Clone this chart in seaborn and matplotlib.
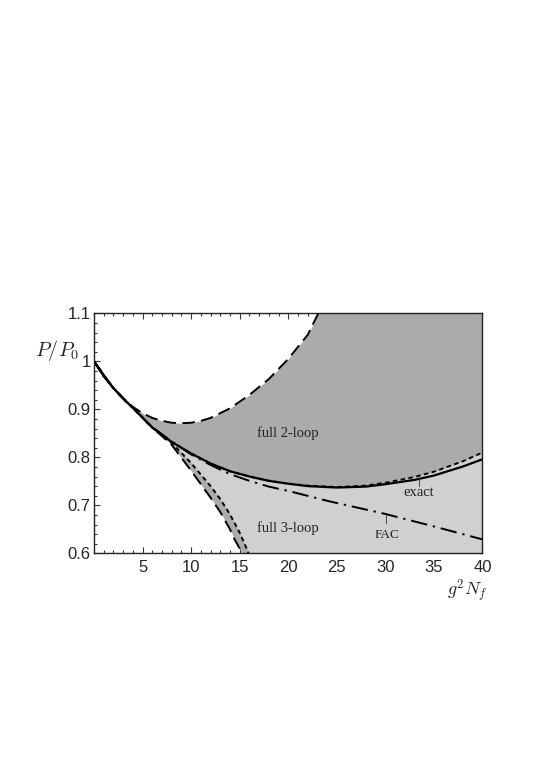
import numpy as np
import matplotlib
matplotlib.use("Agg")
import matplotlib.pyplot as plt
import seaborn as sns
from matplotlib.ticker import MultipleLocator, FixedLocator, FixedFormatter

# ---------------- data ----------------
# exact (solid)
exact_x = [0, 1, 2, 3, 4, 6, 8, 10, 12, 14, 16, 18, 20, 22, 25, 28, 30, 33, 35, 38, 40]
exact_y = [1.0, 0.969, 0.944, 0.922, 0.903, 0.862, 0.832, 0.808, 0.787, 0.771, 0.760,
           0.751, 0.745, 0.740, 0.737, 0.739, 0.744, 0.753, 0.762, 0.781, 0.796]

# full 3-loop, upper bound (short dashes)
loop3_up_x = [0, 1, 2, 3, 4, 6, 8, 10, 12, 14, 16, 18, 20, 22, 25, 28, 30, 33, 35, 38, 40]
loop3_up_y = [1.0, 0.969, 0.944, 0.922, 0.903, 0.862, 0.832, 0.808, 0.787, 0.771, 0.760,
              0.751, 0.745, 0.741, 0.738, 0.741, 0.747, 0.759, 0.770, 0.792, 0.810]

# full 3-loop, lower bound (short dashes)
loop3_lo_x = [0, 2, 4, 6, 8, 10, 12, 13, 14, 15, 15.5, 16.0, 16.2]
loop3_lo_y = [1.0, 0.944, 0.903, 0.862, 0.830, 0.788, 0.740, 0.713, 0.681, 0.643, 0.620,
              0.596, 0.585]

# full 2-loop, upper bound (long dashes)
loop2_up_x = [0, 1, 2, 3, 4, 5, 6, 7, 8, 9, 10, 11, 12, 14, 16, 18, 20, 22, 23.1, 23.8]
loop2_up_y = [1.0, 0.969, 0.944, 0.923, 0.905, 0.892, 0.882, 0.876, 0.872, 0.871, 0.872,
              0.876, 0.882, 0.902, 0.930, 0.963, 1.005, 1.055, 1.100, 1.130]

# full 2-loop, lower bound (long dashes)
loop2_lo_x = [0, 2, 4, 6, 8, 10, 12, 13, 14, 14.5, 15, 15.25, 15.5]
loop2_lo_y = [1.0, 0.944, 0.903, 0.862, 0.826, 0.772, 0.716, 0.686, 0.650, 0.628, 0.610,
              0.598, 0.585]

# FAC (dash-dot)
fac_x = [0, 2, 4, 6, 8, 10, 12, 14, 16, 18, 20, 24.3, 30, 35, 40]
fac_y = [1.0, 0.944, 0.903, 0.863, 0.833, 0.806, 0.784, 0.765, 0.751, 0.739, 0.730,
         0.708, 0.682, 0.656, 0.629]

x_ticks = [5, 10, 15, 20, 25, 30, 35, 40]
x_ticklabels = ["5", "10", "15", "20", "25", "30", "35", "40"]
y_ticks = [0.6, 0.7, 0.8, 0.9, 1.0, 1.1]
y_ticklabels = ["0.6", "0.7", "0.8", "0.9", "1", "1.1"]
x_lim = (0, 40)
y_lim = (0.6, 1.1)

# ---------------- style ----------------
sns.set_theme(style="ticks")
plt.rcParams["font.family"] = ["Liberation Sans", "DejaVu Sans"]
plt.rcParams["mathtext.fontset"] = "cm"

fig = plt.figure(figsize=(5.45, 7.70), dpi=100)
ax = fig.add_axes([0.1725, 0.2814, 0.7128, 0.3117])

DARK = "#ababab"
LIGHT = "#d0d0d0"

# ---------------- filled bands ----------------
grid = np.union1d(np.union1d(loop2_up_x, loop2_lo_x),
                  np.union1d(loop3_up_x, loop3_lo_x))
grid = np.union1d(grid, np.linspace(x_lim[0], x_lim[1], 401))
below = y_lim[0] - 0.5
above = y_lim[1] + 0.5
b2_up = np.interp(grid, loop2_up_x, loop2_up_y, right=above)
b2_lo = np.interp(grid, loop2_lo_x, loop2_lo_y, right=below)
b3_up = np.interp(grid, loop3_up_x, loop3_up_y)
b3_lo = np.interp(grid, loop3_lo_x, loop3_lo_y, right=below)
ax.fill_between(grid, b2_lo, b2_up, color=DARK, lw=0, zorder=1)
ax.fill_between(grid, b3_lo, b3_up, color=LIGHT, lw=0, zorder=2)

# ---------------- lines ----------------
lw = 1.4
sns.lineplot(x=loop2_up_x, y=loop2_up_y, ax=ax, color="black", lw=lw,
             sort=False, zorder=5).lines[-1].set_dashes((6.5, 3.2))
sns.lineplot(x=loop2_lo_x, y=loop2_lo_y, ax=ax, color="black", lw=lw,
             sort=False, zorder=5).lines[-1].set_dashes((6.5, 3.2))
sns.lineplot(x=loop3_lo_x, y=loop3_lo_y, ax=ax, color="black", lw=lw,
             sort=False, zorder=5).lines[-1].set_dashes((2.3, 1.8))
sns.lineplot(x=fac_x, y=fac_y, ax=ax, color="black", lw=lw,
             sort=False, zorder=5).lines[-1].set_dashes((8.5, 3.0, 1.2, 3.0))
sns.lineplot(x=loop3_up_x, y=loop3_up_y, ax=ax, color="black", lw=lw,
             sort=False, zorder=6).lines[-1].set_dashes((2.3, 1.8))
sns.lineplot(x=exact_x, y=exact_y, ax=ax, color="black", lw=1.6,
             sort=False, zorder=7)

# ---------------- axes ----------------
ax.set_xlim(*x_lim)
ax.set_ylim(*y_lim)
ax.xaxis.set_major_locator(FixedLocator(x_ticks))
ax.xaxis.set_major_formatter(FixedFormatter(x_ticklabels))
ax.yaxis.set_major_locator(FixedLocator(y_ticks))
ax.yaxis.set_major_formatter(FixedFormatter(y_ticklabels))
ax.xaxis.set_minor_locator(MultipleLocator(1))
ax.yaxis.set_minor_locator(MultipleLocator(0.02))
ax.tick_params(which="both", direction="in", top=True, right=True,
               color="#333333", width=0.8)
ax.tick_params(which="major", length=4)
ax.tick_params(which="minor", length=2.2)
ax.tick_params(axis="x", which="major", pad=5.0, labelsize=12)
ax.tick_params(axis="y", which="major", pad=2.5, labelsize=12)
for s in ax.spines.values():
    s.set_linewidth(1.0)
    s.set_color("#222222")
    s.set_zorder(10)
ax.set_xlabel("")
ax.set_ylabel("")

ax.text(-0.094, 0.847, r"$P/P_0$", transform=ax.transAxes, fontsize=14.5,
        ha="center", va="center")
ax.text(0.96, -0.156, r"$g^2N_f$", transform=ax.transAxes, fontsize=13,
        ha="center", va="center")

serif = ["Liberation Serif", "DejaVu Serif"]
ax.text(20, 0.851, "full 2-loop", fontsize=10.5, family=serif, ha="center",
        va="center", color="#222222", zorder=8)
ax.text(20, 0.652, "full 3-loop", fontsize=10.5, family=serif, ha="center",
        va="center", color="#222222", zorder=8)
ax.text(33.4, 0.727, "exact", fontsize=10.5, family=serif, ha="center",
        va="center", color="#222222", zorder=8)
ax.plot([33.5, 33.5], [0.740, 0.755], color="#444444", lw=0.7, zorder=8)
ax.text(30.2, 0.639, "FAC", fontsize=9.5, family=serif, ha="center",
        va="center", color="#222222", zorder=8)
ax.plot([30.1, 30.1], [0.664, 0.679], color="#444444", lw=0.7, zorder=8)

fig.savefig("out.png", dpi=100)
